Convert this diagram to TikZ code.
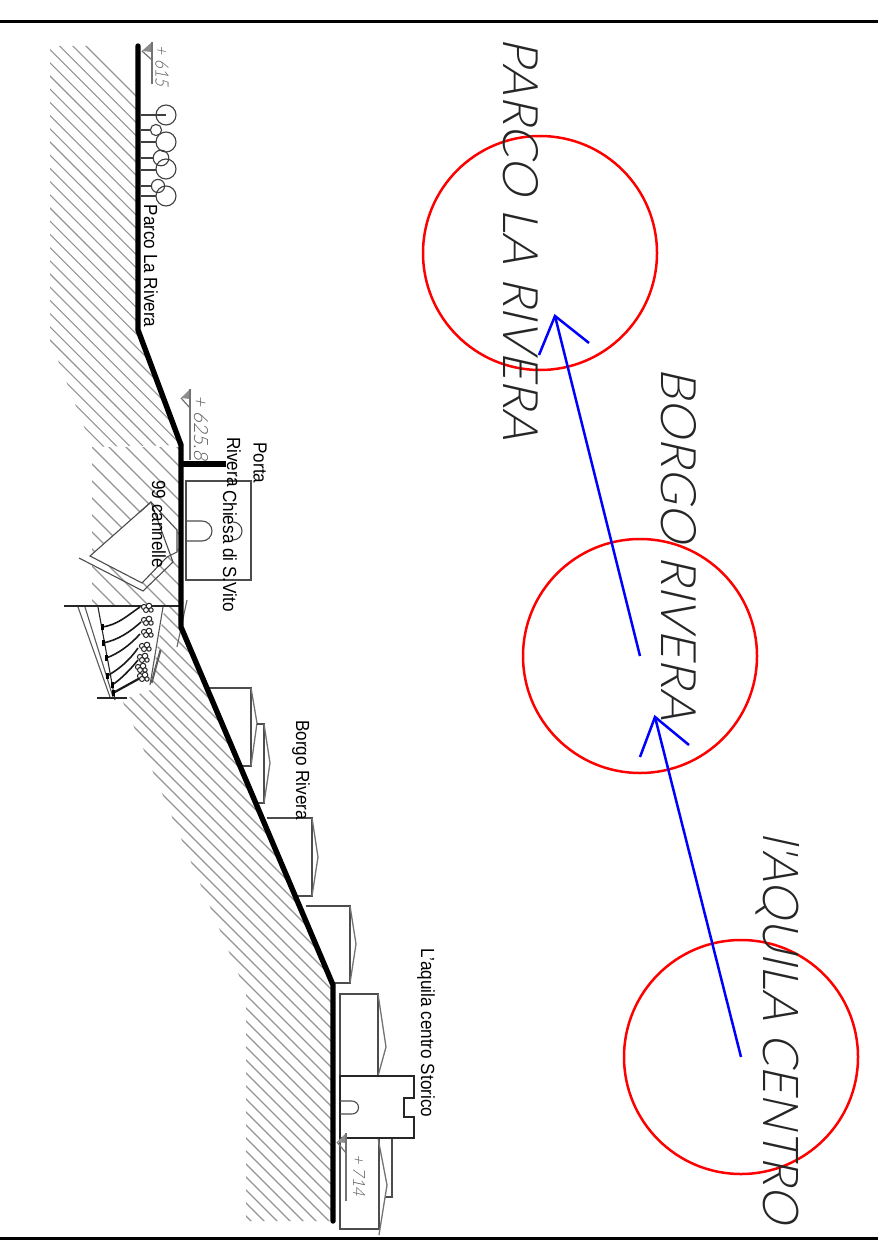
\documentclass[tikz,border=0pt]{standalone}
\usepackage{fontspec}
\setmainfont{Liberation Sans}
\newfontfamily\cadfont[FakeSlant=0.23]{Lato Light}
\newfontfamily\cadsmall[FakeSlant=0.23]{Lato Light}
\newcommand{\lbl}[1]{\scalebox{0.9}[1]{#1}}
\tikzset{
  hatch/.style={draw=black!42,line width=1.1pt},
  ground/.style={draw=black,line width=5.4pt,line cap=round,line join=round},
  bld/.style={draw=black!70,line width=1.1pt,fill=white},
  roof/.style={draw=black!55,line width=1.3pt},
  thin line/.style={draw=black!85,line width=1.1pt},
  red ring/.style={draw=red,line width=2.5pt},
  blue arrow/.style={draw=blue,line width=2.5pt,line join=miter},
  label/.style={rotate=-90,inner sep=0pt,font=\fontsize{19}{21}\selectfont,text=black},
  title/.style={rotate=-90,inner sep=0pt,text=black!85},
  elev/.style={rotate=-90,inner sep=0pt,text=black!65},
  marker/.style={draw=black!55,line width=1.2pt},
  stair/.style={draw=black!90,line width=1.6pt},
  blob/.style={draw=black!85,line width=1pt,fill=white}
}
\newcommand{\hatchlines}[3]{\foreach \k in {0,...,#3}{
  \pgfmathsetmacro{\c}{#1+#2*\k}
  \draw[hatch] (-20,{-20+\c}) -- (520,{520+\c});}}
\begin{document}
\begin{tikzpicture}[x=1pt,y=-1pt]
\useasboundingbox (0,0) rectangle (878,1241);
\fill[white] (0,0) rectangle (878,1241);
% frame
\draw[line width=3pt,black] (0,22) -- (878,22);
\draw[line width=3pt,black] (0,1238) -- (878,1238);
% hatching
\begin{scope}
\clip (50,46) -- (138,46) -- (138,330) -- (181,445) -- (92,447) -- (50,340) -- cycle;
\hatchlines{-40}{13.2}{40}
\end{scope}
\begin{scope}
\clip (92,447) -- (180,447) -- (180,606) -- (92,606) -- cycle;
\hatchlines{253}{17}{26}
\end{scope}
\begin{scope}
\clip (165,606) -- (180,606) -- (181,627) -- (333,985) -- (333,1221) -- (246,1221) -- (246,992) -- (134,727) -- (122,700) -- (150,688) -- cycle;
\hatchlines{398}{13}{72}
\end{scope}
% 99 cannelle wedge
\draw[bld,draw=black!70] (90,556) -- (151,502) -- (177,530) -- (177,552) -- (167,557) -- (142,583) -- cycle;
\draw[bld,fill=none] (140,512) -- (151,502);
\draw[bld,fill=none] (79,558) -- (143,591) -- (173,562) -- (151,502);
% pit
\fill[white] (78,606) -- (163,606) -- (150,690) -- (127,698) -- (110,698) -- cycle;
\draw[thin line,black!65] (78,607) -- (110,697);
\draw[thin line,black!65] (85,607) -- (113,697);
\draw[thin line] (98,607) -- (115,700);
\draw[thin line,black!65] (163,607) -- (150,685);
\draw[thin line,black!65] (161,650) -- (152,683);
\draw[thin line,black!65] (160,650) -- (151,683);
\draw[thin line] (64,606) -- (180,606);
\draw[thin line] (97,698) -- (127,698);
% stairs
\draw[stair] (102,627) .. controls (118,625) and (128,615) .. (140,607);
\draw[stair] (103,643) .. controls (118,640) and (130,632) .. (141,622);
\draw[stair] (106,658) .. controls (118,654) and (130,645) .. (140,634);
\draw[stair] (107,676) .. controls (118,670) and (130,660) .. (138,648);
\draw[stair] (112,685) .. controls (120,680) and (130,670) .. (138,660);
\draw[stair,line width=2.2pt] (113,693) -- (142,677);
\foreach \x/\y in {102/627,103/643,106/658,107/676,112/685,113/693}{
  \draw[black,line width=3pt] (\x,\y-3) -- (\x,\y+3);
}
\foreach \x/\y in {147/608,147/621,147/633,145/647,143/658,141/668,143/677}{
  \draw[blob] (\x-3,\y-1) circle (2.6);
  \draw[blob] (\x+2,\y-2) circle (2.8);
  \draw[blob] (\x+4,\y+2) circle (2.2);
  \draw[blob] (\x-1,\y+2) circle (2.5);
}
% church S.Vito
\draw[bld,fill=none] (186,481) rectangle (251,580);
\draw[bld,fill=none] (186,521) -- (202,521) arc[start angle=-90,end angle=90,radius=10] -- (186,541);
\draw[bld,fill=none] (233,522) arc[start angle=-90,end angle=90,radius=9];
% Borgo houses
\draw[bld,fill=none] (208,688) -- (251,688) -- (251,766) -- (242,766);
\draw[roof] (251,688) -- (257,723) -- (251,766);
\draw[bld,fill=none] (257,724) -- (264,724) -- (264,803) -- (255,803);
\draw[roof] (264,724) -- (270,763) -- (264,803);
\draw[bld,fill=none] (267,818) -- (312,818) -- (312,896) -- (298,896);
\draw[roof] (312,818) -- (318,857) -- (312,896);
\draw[bld,fill=none] (306,906) -- (350,906) -- (350,983) -- (333,983);
\draw[roof] (350,906) -- (356,944) -- (350,983);
% centro storico
\draw[bld,fill=none] (392,1139) -- (392,1197) -- (385,1197);
\draw[bld,fill=none] (378,1076) -- (378,994) -- (340,994) -- (340,1229) -- (379,1229) -- (379,1138);
\draw[roof] (378,994) -- (386,1047) -- (378,1076);
\draw[roof] (378,1138) -- (387,1185) -- (379,1235);
\draw[draw=black!85,line width=1.1pt,fill=white] (340,1076) -- (414,1076) -- (414,1098) -- (404,1098) -- (404,1117) -- (414,1117) -- (414,1138) -- (340,1138) -- cycle;
\draw[bld,fill=none] (340,1101) -- (352,1101) arc[start angle=-90,end angle=90,radius=6.5] -- (340,1114);
% trees
\foreach \yy/\xe in {115/166,130/150,142/156,158/153,170/156,186/152,196/156}{
  \draw[thin line,black!75] (141,\yy) -- (\xe,\yy);
}
\foreach \x/\y/\r in {166/115/10,166/142/10,166/169/10,166/196/10,156/130/5.6,161/158/7.8,158/186/6.6}{
  \draw[thin line,black!75] (\x,\y) circle (\r);
}
% extra marks by the pit edge
\draw[thin line,black!60] (187,600) -- (177,647);
\draw[thin line,black!60] (183,602) -- (179,620);
% ground
\draw[ground] (138,46) -- (138,330) -- (181,445) -- (181,627) -- (333,985) -- (333,1221);
\draw[ground,line cap=butt] (181,464) -- (226,464);
% elevation markers
\fill[black!45] (152,42) -- (142,51) -- (152,52) -- cycle;
\draw[marker] (142,51) -- (152,60);
\draw[marker] (152,42) -- (152,84);
\fill[black!45] (190,389) -- (181,398) -- (190,399) -- cycle;
\draw[marker] (181,398) -- (190,408);
\draw[marker] (190,389) -- (190,460);
\fill[black!45] (346,1133) -- (337,1142) -- (346,1143) -- cycle;
\draw[marker] (337,1142) -- (346,1153);
\draw[marker] (346,1133) -- (346,1201);
\node[elev] (e1) at (162,66) {\resizebox{40pt}{13pt}{\cadsmall + 615}};
\node[elev] (e2) at (201,428) {\resizebox{64pt}{14pt}{\cadsmall + 625.8}};
\node[elev] (e3) at (359,1175) {\resizebox{42pt}{12pt}{\cadsmall + 714}};
% rings and arrows
\node[red ring,circle,minimum size=234pt,inner sep=0pt] (r1) at (540,253) {};
\node[red ring,circle,minimum size=234pt,inner sep=0pt] (r2) at (640,656) {};
\node[red ring,circle,minimum size=234pt,inner sep=0pt] (r3) at (741,1057) {};
\coordinate (h1) at (555,316);
\coordinate (h2) at (655,717);
\draw[blue arrow] (r2.center) -- (h1);
\draw[blue arrow] (539,355) -- (h1) -- (589,343);
\draw[blue arrow] (r3.center) -- (h2);
\draw[blue arrow] (640,757) -- (h2) -- (689,745);
% big titles
\node[title] (t1) at (521,239) {\resizebox{402pt}{35pt}{\cadfont PARCO LA RIVERA}};
\node[title] (t2) at (679,544) {\resizebox{352pt}{35pt}{\cadfont BORGO RIVERA}};
\node[title] (t3) at (778,1028) {\resizebox{390pt}{36pt}{\cadfont l'AQUILA CENTRO}};
% labels
\node[label] (l1) at (151,266) {\lbl{Parco La Rivera}};
\node[label] (l2) at (260,463) {\lbl{Porta}};
\node[label] (l3) at (234,462) {\lbl{Rivera}};
\node[label] (l4) at (230,551) {\lbl{Chiesa di S.Vito}};
\node[label] (l5) at (159,524) {\lbl{99 cannelle}};
\node[label] (l6) at (301,770) {\lbl{Borgo Rivera}};
\node[label] (l7) at (426,1033) {\lbl{L'aquila centro Storico}};
\end{tikzpicture}
\end{document}
